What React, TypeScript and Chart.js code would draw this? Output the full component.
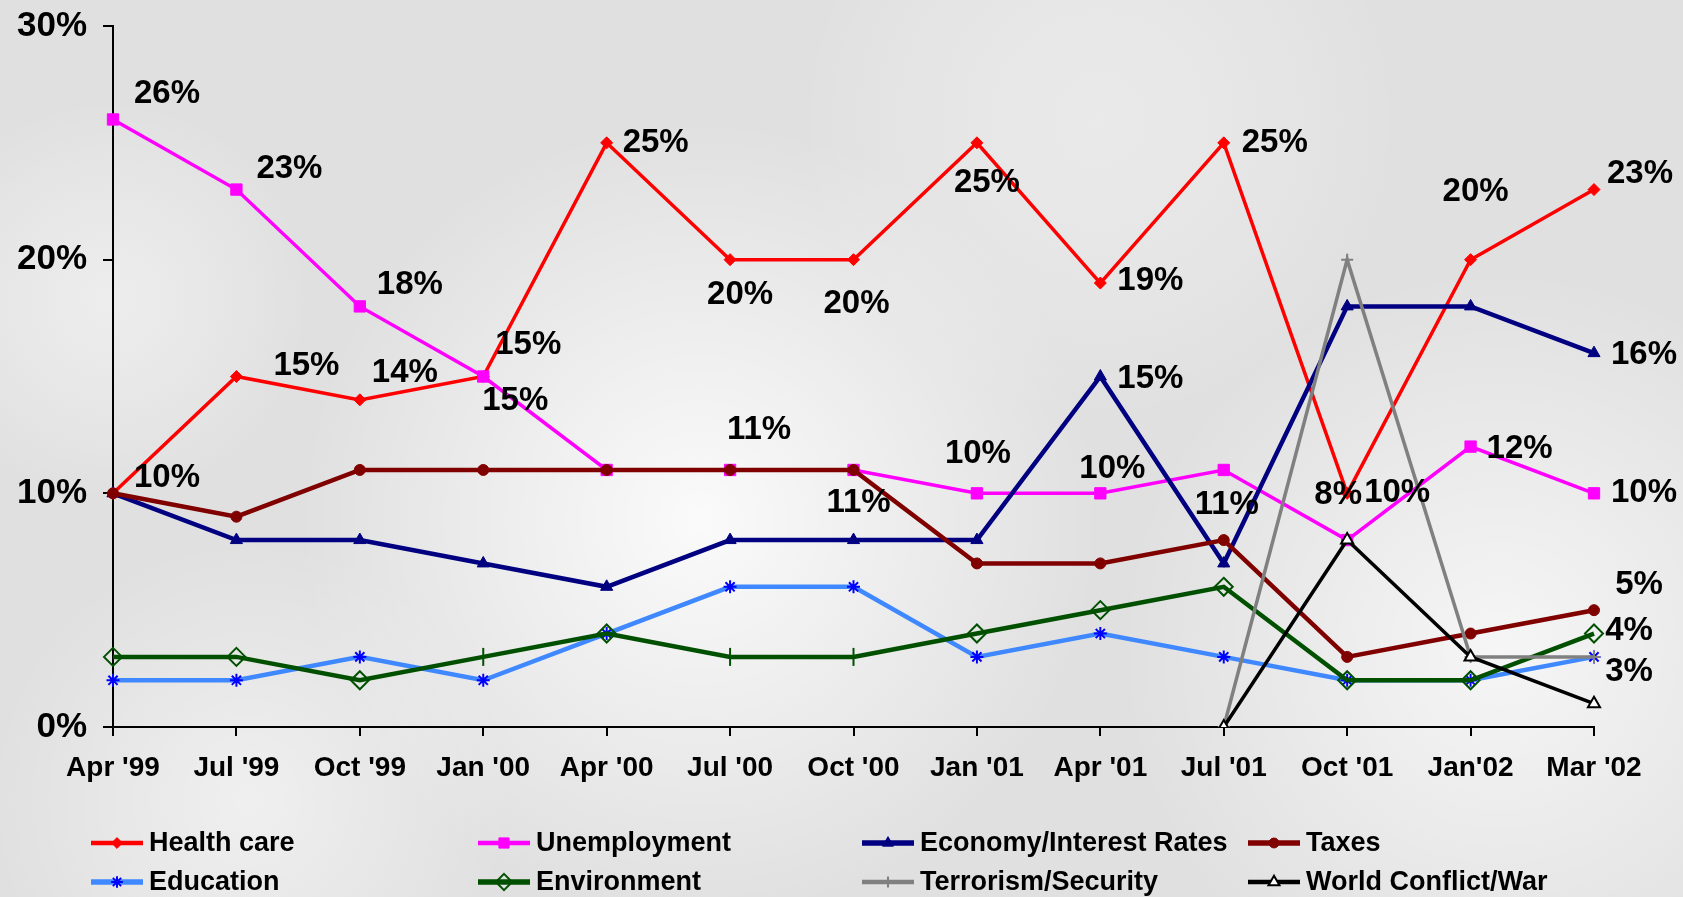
import React, { useEffect, useRef } from "react";
import { Chart, registerables } from "chart.js";
import { drawPoint } from "chart.js/helpers";

Chart.register(...registerables);

const categories = ["Apr '99", "Jul '99", "Oct '99", "Jan '00", "Apr '00", "Jul '00", "Oct '00", "Jan '01", "Apr '01", "Jul '01", "Oct '01", "Jan'02", "Mar '02"];

const healthCare = [10, 15, 14, 15, 25, 20, 20, 25, 19, 25, 10, 20, 23];
const unemployment = [26, 23, 18, 15, 11, 11, 11, 10, 10, 11, 8, 12, 10];
const economy = [10, 8, 8, 7, 6, 8, 8, 8, 15, 7, 18, 18, 16];
const taxes = [10, 9, 11, 11, 11, 11, 11, 7, 7, 8, 3, 4, 5];
const education = [2, 2, 3, 2, 4, 6, 6, 3, 4, 3, 2, 2, 3];
const environment = [3, 3, 2, 3, 4, 3, 3, 4, 5, 6, 2, 2, 4];
const terrorism = [null, null, null, null, null, null, null, null, null, 0, 20, 3, 3];
const worldConflict = [null, null, null, null, null, null, null, null, null, 0, 8, 3, 1];

const yTicks = [0, 10, 20, 30];

// which points carry a value label: [series index, category index]
const labelled: [number, number][] = [
  [1, 0], [1, 1], [1, 2], [0, 3], [1, 3], [0, 1], [0, 2], [0, 0], [0, 4], [0, 5], [0, 6], [0, 7],
  [0, 8], [0, 9], [0, 11], [0, 12], [2, 12], [2, 8], [1, 5], [3, 6], [1, 7], [1, 8], [1, 9],
  [1, 10], [0, 10], [1, 11], [1, 12], [3, 12], [5, 12], [4, 12],
];
// label offsets in pixels (layout only), parallel to `labelled`
const labelOffsets: [number, number][] = [
  [54, -26], [53, -21], [50, -21], [45, -32], [32, 24], [70, -11], [45, -27], [54, -15], [49, 0], [10, 35], [3, 44], [10, 40],
  [50, -2], [51, 0], [5, -68], [46, -16], [50, 2], [50, 2], [29, -40], [5, 33], [1, -39], [12, -24], [3, 35],
  [-9, -45], [50, 0], [49, 2], [50, 0], [45, -25], [35, -3], [35, 15],
];

const FONT = '"Liberation Sans", Arial, Helvetica, sans-serif';

const envStyles = environment.map((_, i) => (i === 3 || i === 5 || i === 6 ? "line" : "rectRot"));

const seriesDefs = [
  { label: "Health care", data: healthCare, color: "#ff0000", pColor: "#ff0000", bg: "#ff0000", style: "rectRot", r: 6, lw: 3.5, pbw: 1 },
  { label: "Unemployment", data: unemployment, color: "#ff00ff", pColor: "#ff00ff", bg: "#ff00ff", style: "rect", r: 8, lw: 3.5, pbw: 1 },
  { label: "Economy/Interest Rates", data: economy, color: "#000080", pColor: "#000080", bg: "#000080", style: "triangle", r: 7, lw: 4.5, pbw: 1 },
  { label: "Taxes", data: taxes, color: "#800000", pColor: "#800000", bg: "#800000", style: "circle", r: 5.5, lw: 4.5, pbw: 1 },
  { label: "Education", data: education, color: "#3f88ff", pColor: "#0000ff", bg: "#0000ff", style: "star", r: 6.5, lw: 4.5, pbw: 2 },
  { label: "Environment", data: environment, color: "#005000", pColor: "#005000", bg: "rgba(0,0,0,0)", style: envStyles, r: 9, lw: 4.5, pbw: 2 },
  { label: "Terrorism/Security", data: terrorism, color: "#808080", pColor: "#808080", bg: "#808080", style: "cross", r: 6, lw: 3.5, pbw: 2 },
  { label: "World Conflict/War", data: worldConflict, color: "#000000", pColor: "#000000", bg: "#ffffff", style: "triangle", r: 7, lw: 3.5, pbw: 2 },
];

const legendCols = [91, 478, 862, 1248];
const legendRows = [843, 882];

const bgPlugin = {
  id: "bgPlugin",
  beforeDraw(chart: any) {
    const { ctx, width, height } = chart;
    ctx.save();
    ctx.fillStyle = "#e0e0e0";
    ctx.fillRect(0, 0, width, height);
    const blobs: [number, number, number, string][] = [
      [700, 520, 400, "rgba(255,255,255,0.85)"],
      [1500, 650, 380, "rgba(255,255,255,0.7)"],
      [250, 800, 260, "rgba(255,255,255,0.5)"],
      [1100, 120, 300, "rgba(245,245,245,0.45)"],
      [110, 300, 200, "rgba(250,250,250,0.5)"],
    ];
    for (const [x, y, r, c] of blobs) {
      const g = ctx.createRadialGradient(x, y, 0, x, y, r);
      g.addColorStop(0, c);
      g.addColorStop(1, "rgba(255,255,255,0)");
      ctx.fillStyle = g;
      ctx.fillRect(0, 0, width, height);
    }
    ctx.restore();
  },
};

const labelPlugin = {
  id: "labelPlugin",
  afterDatasetsDraw(chart: any) {
    const { ctx } = chart;
    ctx.save();
    ctx.font = `bold 33px ${FONT}`;
    ctx.fillStyle = "#000";
    ctx.textAlign = "center";
    ctx.textBaseline = "middle";
    labelled.forEach(([s, i], k) => {
      const v = seriesDefs[s].data[i] as number;
      const x = chart.scales.x.getPixelForValue(i);
      const y = chart.scales.y.getPixelForValue(v);
      const [dx, dy] = labelOffsets[k];
      ctx.fillText(`${v}%`, x + dx, y + dy);
    });
    ctx.restore();
  },
};

const legendPlugin = {
  id: "legendPlugin",
  afterDraw(chart: any) {
    const { ctx } = chart;
    ctx.save();
    ctx.font = `bold 27px ${FONT}`;
    ctx.textBaseline = "middle";
    ctx.textAlign = "left";
    seriesDefs.forEach((s, k) => {
      const x = legendCols[k % 4];
      const y = legendRows[Math.floor(k / 4)];
      ctx.strokeStyle = s.color;
      ctx.lineWidth = s.lw + 1;
      ctx.beginPath();
      ctx.moveTo(x, y);
      ctx.lineTo(x + 52, y);
      ctx.stroke();
      ctx.fillStyle = s.bg;
      ctx.strokeStyle = s.pColor;
      ctx.lineWidth = s.pbw;
      const style = Array.isArray(s.style) ? s.style[0] : s.style;
      drawPoint(ctx, { pointStyle: style, radius: s.r * 0.9, borderWidth: s.pbw, rotation: k === 5 ? 90 : 0 } as any, x + 26, y);
      ctx.fillStyle = "#000";
      ctx.fillText(s.label, x + 58, y + 1);
    });
    ctx.restore();
  },
};

export default function App() {
  const ref = useRef<HTMLCanvasElement | null>(null);

  useEffect(() => {
    document.body.style.margin = "0";
    document.body.style.overflow = "hidden";
    const canvas = ref.current!;
    const chart = new Chart(canvas, {
      type: "line",
      data: {
        labels: categories,
        datasets: seriesDefs.map((s, k) => ({
          label: s.label,
          data: s.data,
          borderColor: s.color,
          borderWidth: s.lw,
          backgroundColor: s.bg,
          pointBackgroundColor: s.bg,
          pointBorderColor: s.pColor,
          pointBorderWidth: s.pbw,
          pointStyle: s.style as any,
          pointRadius: s.r,
          pointRotation: k === 5 ? 90 : 0,
          tension: 0,
          spanGaps: false,
          fill: false,
          order: 8 - k,
        })),
      },
      options: {
        responsive: false,
        animation: false,
        events: [],
        layout: { padding: { top: 26, right: 89, bottom: 100, left: 0 } },
        plugins: { legend: { display: false }, tooltip: { enabled: false } },
        scales: {
          x: {
            type: "category",
            offset: false,
            grid: { drawOnChartArea: false, drawTicks: true, tickLength: 9, color: "#000", lineWidth: 2 },
            border: { display: true, color: "#000", width: 2 },
            ticks: { color: "#000", font: { family: FONT, size: 28, weight: "bold" }, padding: 15, maxRotation: 0, autoSkip: false },
            afterFit(scale: any) {
              scale.height = 70;
            },
          },
          y: {
            min: 0,
            max: 30,
            grid: { drawOnChartArea: false, drawTicks: true, tickLength: 10, color: "#000", lineWidth: 2 },
            border: { display: true, color: "#000", width: 2 },
            afterBuildTicks(scale: any) {
              scale.ticks = yTicks.map((v) => ({ value: v }));
            },
            ticks: {
              color: "#000",
              font: { family: FONT, size: 35, weight: "bold", lineHeight: 0.5 },
              padding: 16,
              callback: (v: any) => `${v}%`,
            },
            afterFit(scale: any) {
              scale.width = 113;
            },
          },
        },
      },
      plugins: [bgPlugin, labelPlugin, legendPlugin],
    });
    return () => chart.destroy();
  }, []);

  return <canvas ref={ref} width={1683} height={897} style={{ display: "block" }} />;
}
